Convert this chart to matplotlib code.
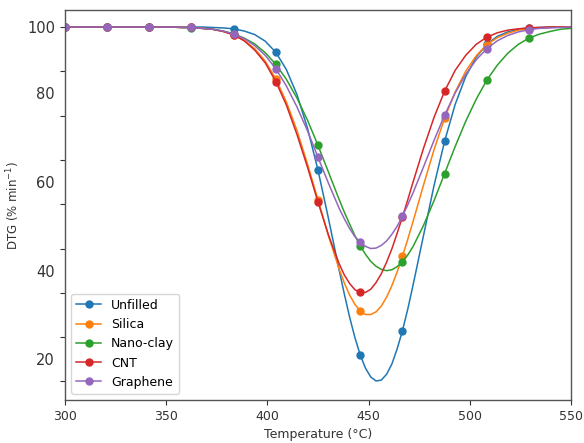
import numpy as np
import matplotlib
matplotlib.use('Agg')
import matplotlib.pyplot as plt

# --- data (DTG curves, % min^-1) ---
temperature = np.linspace(300, 550, 49)   # every 4th point carries a marker
# extra readings around the minima so the troughs stay round
temperature_extra = [438.02, 443.23, 448.44, 453.65, 458.85, 464.06, 469.27]

unfilled = [100.0] * 12 + [
    100.0, 100.0, 99.9, 99.8, 99.6, 99.1, 98.3, 96.8, 94.3, 90.4, 84.8, 77.2,
    67.7, 56.7, 45.2, 34.5, 26.0, 21.0, 20.3, 23.9, 31.4, 41.6, 52.9, 64.2,
    74.2, 82.5, 88.8, 93.2, 96.1, 97.9, 98.9, 99.5, 99.8, 99.9, 100.0, 100.0,
    100.0]
unfilled_extra = [39.7, 29.9, 23.0, 20.1, 21.6, 27.3, 36.2]

silica = [100.0] * 11 + [
    99.9, 99.9, 99.7, 99.5, 99.0, 98.3, 97.0, 95.1, 92.3, 88.3, 83.1, 76.7,
    69.1, 61.0, 52.8, 45.4, 39.5, 35.9, 35.1, 37.0, 41.6, 48.2, 56.0, 64.3,
    72.3, 79.4, 85.3, 90.0, 93.5, 96.0, 97.6, 98.6, 99.3, 99.6, 99.8, 99.9,
    100.0, 100.0]
silica_extra = [42.2, 37.4, 35.1, 35.7, 39.0, 44.7, 52.0]

nano_clay = [100.0] * 11 + [
    99.9, 99.8, 99.7, 99.5, 99.1, 98.5, 97.5, 96.2, 94.2, 91.6, 88.2, 84.0,
    79.0, 73.3, 67.2, 61.1, 55.5, 50.6, 47.1, 45.3, 45.2, 47.0, 50.4, 55.2,
    60.8, 66.9, 73.0, 78.7, 83.7, 88.0, 91.4, 94.1, 96.1, 97.5, 98.4, 99.0,
    99.5, 99.7]
nano_clay_extra = [58.2, 52.9, 48.7, 46.0, 45.0, 45.9, 48.5]

cnt = [100.0] * 11 + [
    99.9, 99.9, 99.7, 99.5, 99.0, 98.2, 96.9, 94.8, 91.9, 87.7, 82.4, 75.8,
    68.4, 60.5, 53.0, 46.6, 42.1, 40.1, 40.8, 44.3, 49.9, 57.1, 64.9, 72.6,
    79.6, 85.5, 90.2, 93.6, 96.1, 97.7, 98.7, 99.3, 99.6, 99.8, 99.9, 100.0,
    100.0, 100.0]
cnt_extra = [44.0, 40.7, 40.1, 42.3, 46.9, 53.4, 60.9]

graphene = [100.0] * 11 + [
    99.9, 99.9, 99.7, 99.5, 99.1, 98.4, 97.4, 95.8, 93.6, 90.6, 86.7, 82.0,
    76.6, 70.6, 64.7, 59.1, 54.5, 51.4, 50.0, 50.7, 53.2, 57.3, 62.5, 68.4,
    74.4, 80.1, 85.1, 89.3, 92.6, 95.1, 96.9, 98.1, 98.9, 99.4, 99.7, 99.8,
    99.9, 100.0]
graphene_extra = [56.7, 52.7, 50.5, 50.1, 51.7, 55.0, 59.8]

series = [
    ('Unfilled', unfilled, unfilled_extra, 'tab:blue'),
    ('Silica', silica, silica_extra, 'tab:orange'),
    ('Nano-clay', nano_clay, nano_clay_extra, 'tab:green'),
    ('CNT', cnt, cnt_extra, 'tab:red'),
    ('Graphene', graphene, graphene_extra, 'tab:purple'),
]

# merge base grid and extra readings, find where the markers go
t_all = np.concatenate([temperature, temperature_extra])
order = np.argsort(t_all)
t_all = t_all[order]
marker_t = temperature[::4][:-1]     # no marker at 550 in the reference
mark_idx = [int(np.argmin(np.abs(t_all - t))) for t in marker_t]

fig = plt.figure(figsize=(5.84, 4.43), dpi=100)
ax = fig.add_axes([0.111, 0.097, 0.867, 0.880])

for name, vals, extra, col in series:
    y = np.concatenate([vals, extra])[order]
    ax.plot(t_all, y, color=col, lw=1.1, marker='o', markersize=5,
            markevery=mark_idx, label=name)

ax.set_xlim(300, 550)
ax.set_ylim(15.8, 103.8)

# x axis
ax.set_xticks(np.arange(300, 551, 50))
ax.tick_params(axis='x', labelsize=9, colors='#333333')

# y axis: tick marks every 10, labels sit between the marks as in the reference
ax.set_yticks(np.arange(20, 101, 10))
ax.set_yticklabels([''] * 8 + ['100'])
ax.set_yticks([25, 45, 65, 85], labels=['20', '40', '60', '80'], minor=True)
ax.tick_params(axis='y', which='major', labelsize=10.5, colors='#333333')
ax.tick_params(axis='y', which='minor', length=0, pad=7, labelsize=10.5,
               labelcolor='#333333')

ax.set_xlabel('Temperature (°C)', fontsize=9, color='#333333')
ax.set_ylabel('DTG (% min$^{-1}$)', fontsize=8.5, color='#333333')

for sp in ax.spines.values():
    sp.set_color('#555555')
    sp.set_linewidth(1.0)

ax.legend(loc='lower left', fontsize=9)

fig.savefig('out.png', dpi=100)
